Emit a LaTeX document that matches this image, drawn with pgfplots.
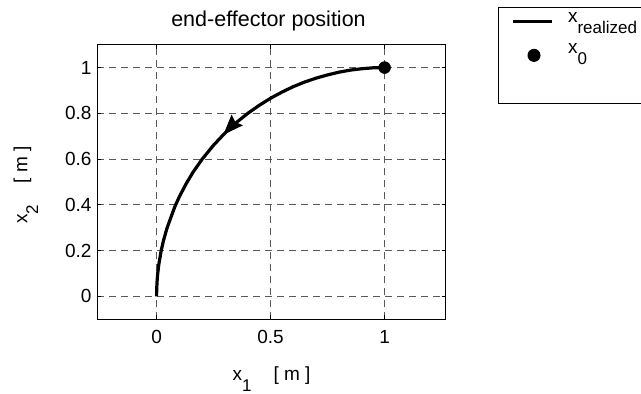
\documentclass[border=0pt]{standalone}
\usepackage{fontspec}
\setmainfont{Liberation Sans}
\usepackage{pgfplots}
\pgfplotsset{compat=1.18}
\usetikzlibrary{decorations.markings,arrows.meta}
\newcommand{\sub}[1]{\raisebox{-10.8pt}{\fontsize{17}{19}\selectfont #1}}
\begin{document}
\begin{tikzpicture}
\begin{axis}[
  at={(97.3pt,74.7pt)}, anchor=south west,
  scale only axis, width=348.4pt, height=274.6pt,
  xmin=-0.26, xmax=1.268, ymin=-0.1, ymax=1.1,
  xtick={0,0.5,1}, ytick={0,0.2,0.4,0.6,0.8,1},
  /pgf/number format/assume math mode=true,
  tick label style={font=\fontsize{19}{21}\selectfont},
  xticklabel style={anchor=base, yshift=-24pt},
  yticklabel style={anchor=east, inner sep=0pt, xshift=-5.6pt},
  tick align=inside, major tick length=4pt,
  tick style={black, line width=0.8pt},
  axis line style={line width=1.3pt},
  grid=major,
  major grid style={black!65, line width=0.8pt, dash pattern=on 7pt off 5pt},
  title={end-effector position},
  title style={at={(axis description cs:0.5,1)}, anchor=base, yshift=12.3pt, xshift=-3pt, font=\fontsize{21.5}{23}\selectfont},
  xlabel={x\sub{1}\hspace{22pt}[ m ]},
  xlabel style={at={(axis description cs:0.5,0)}, anchor=base, yshift=-61.7pt, font=\fontsize{19}{21}\selectfont},
  ylabel={x\sub{2}\hspace{22pt}[ m ]},
  ylabel style={at={(axis description cs:-0.201,0.489)}, anchor=base, rotate=0, font=\fontsize{19}{21}\selectfont},
  legend style={at={(axis description cs:1.151,1.136)}, anchor=north west,
    draw=black, line width=1pt, fill=white,
    inner xsep=13pt, inner ysep=1.5pt, row sep=0pt,
    font=\fontsize{19}{21}\selectfont,
    nodes={inner sep=0pt, text height=13pt, text depth=18pt},
    /tikz/column 1/.style={column sep=14pt}},
  legend cell align=left,
]
\addlegendimage{legend image code/.code={\draw[black, line width=3.2pt] (0pt,3.6pt) -- (39pt,3.6pt);}}
\addlegendentry{x\sub{realized}\hspace{15pt}}
\addlegendimage{legend image code/.code={\fill[black] (20.6pt,0.5pt) circle (6pt);}}
\addlegendentry{x\sub{0}}
\addlegendimage{legend image code/.code={}}
\addlegendentry{}
\addplot[black, line width=3.2pt, line join=round, forget plot,
  postaction={decorate},
  decoration={markings, mark=at position 0.5 with {\arrow{Stealth[length=20pt,width=15pt,inset=2.5pt]}}}]
coordinates {
(1,1) (0.95,0.999) (0.9,0.995) (0.85,0.989) (0.8,0.98) (0.75,0.968) (0.7,0.954)
(0.65,0.937) (0.6,0.917) (0.55,0.893) (0.5,0.866) (0.45,0.835) (0.4,0.8)
(0.35,0.76) (0.3,0.714) (0.25,0.661) (0.2,0.6) (0.16,0.543) (0.13,0.493)
(0.1,0.436) (0.08,0.392) (0.06,0.338) (0.045,0.296) (0.03,0.243) (0.02,0.199)
(0.01,0.141) (0.005,0.1) (0.002,0.063) (0.0005,0.03) (0,0)
};
\addplot[only marks, mark=*, mark size=6pt, black, forget plot] coordinates {(1,1)};
\end{axis}
\pgfresetboundingbox
\useasboundingbox (0,0) rectangle (641pt,394pt);
\end{tikzpicture}
\end{document}
